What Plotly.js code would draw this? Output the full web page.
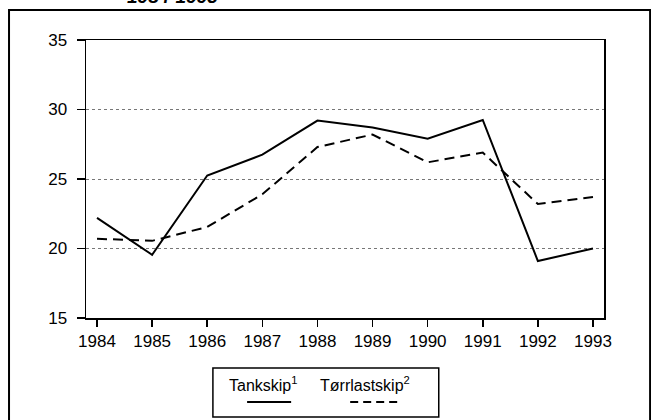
<!DOCTYPE html>
<html>
<head>
<meta charset="utf-8">
<script src="https://cdn.plot.ly/plotly-3.0.1.min.js"></script>
<style>html,body{margin:0;padding:0;background:#fff;}#chart{width:651px;height:420px;}</style>
</head>
<body>
<div id="chart"></div>
<script>
const years = [1984, 1985, 1986, 1987, 1988, 1989, 1990, 1991, 1992, 1993];
const tankskip = [22.2, 19.55, 25.25, 26.75, 29.2, 28.7, 27.9, 29.25, 19.1, 20.0];
const torrlastskip = [20.7, 20.55, 21.55, 23.9, 27.3, 28.2, 26.2, 26.9, 23.2, 23.7];
const yTicks = [15, 20, 25, 30, 35];
const seriesNames = ['Tankskip<sup>1</sup>', 'Tørrlastskip<sup>2</sup>'];
const titleText = '<b><i>1984-1993</i></b>';

const font = 'Liberation Sans, Arial, Helvetica, sans-serif';

const traces = [
  {x: years, y: tankskip, name: seriesNames[0], mode: 'lines',
   line: {color: '#000', width: 2}},
  {x: years, y: torrlastskip, name: seriesNames[1], mode: 'lines',
   line: {color: '#000', width: 2, dash: '10px,6px'}}
];

const layout = {
  width: 651, height: 420,
  margin: {l: 86, r: 47, t: 40, b: 102},
  paper_bgcolor: '#fff', plot_bgcolor: '#fff',
  showlegend: false,
  font: {family: font, size: 17, color: '#000'},
  xaxis: {
    range: [1983.8, 1993.2], tickvals: years, ticktext: years.map(String),
    showgrid: false, zeroline: false,
    showline: true, mirror: true, linecolor: '#000', linewidth: 1.5,
    ticks: 'outside', ticklen: 7, tickcolor: '#000', tickwidth: 1.5,
    tickfont: {family: font, size: 17, color: '#000'}
  },
  yaxis: {
    range: [15, 35], tickvals: yTicks,
    showgrid: true, gridcolor: '#777', gridwidth: 1, griddash: 'dot',
    zeroline: false,
    showline: true, mirror: true, linecolor: '#000', linewidth: 1.5,
    ticks: 'outside', ticklen: 8, tickcolor: '#000', tickwidth: 1.5,
    ticklabelstandoff: 6,
    tickfont: {family: font, size: 17, color: '#000'}
  },
  shapes: [
    {type: 'rect', xref: 'paper', yref: 'paper', x0: -0.1486, x1: 1.089, y0: -0.4, y1: 1.108,
     line: {color: '#000', width: 2}},
    {type: 'rect', xref: 'paper', yref: 'paper', x0: 0.245, x1: 0.681, y0: -0.356, y1: -0.180,
     line: {color: '#000', width: 1.5}},
    {type: 'line', xref: 'paper', yref: 'paper', x0: 0.311, x1: 0.396, y0: -0.302, y1: -0.302,
     line: {color: '#000', width: 2}},
    {type: 'line', xref: 'paper', yref: 'paper', x0: 0.510, x1: 0.604, y0: -0.302, y1: -0.302,
     line: {color: '#000', width: 2, dash: '8px,5px'}}
  ],
  annotations: [
    {text: titleText, xref: 'paper', yref: 'paper', x: 0.075, y: 1.112,
     xanchor: 'left', yanchor: 'bottom', showarrow: false,
     font: {family: font, size: 19, color: '#000'}},
    {text: seriesNames[0], xref: 'paper', yref: 'paper', x: 0.272, y: -0.237,
     xanchor: 'left', yanchor: 'middle', showarrow: false,
     font: {family: font, size: 16, color: '#000'}},
    {text: seriesNames[1], xref: 'paper', yref: 'paper', x: 0.448, y: -0.237,
     xanchor: 'left', yanchor: 'middle', showarrow: false,
     font: {family: font, size: 16, color: '#000'}}
  ]
};

Plotly.newPlot('chart', traces, layout, {displayModeBar: false, staticPlot: true});
</script>
</body>
</html>
